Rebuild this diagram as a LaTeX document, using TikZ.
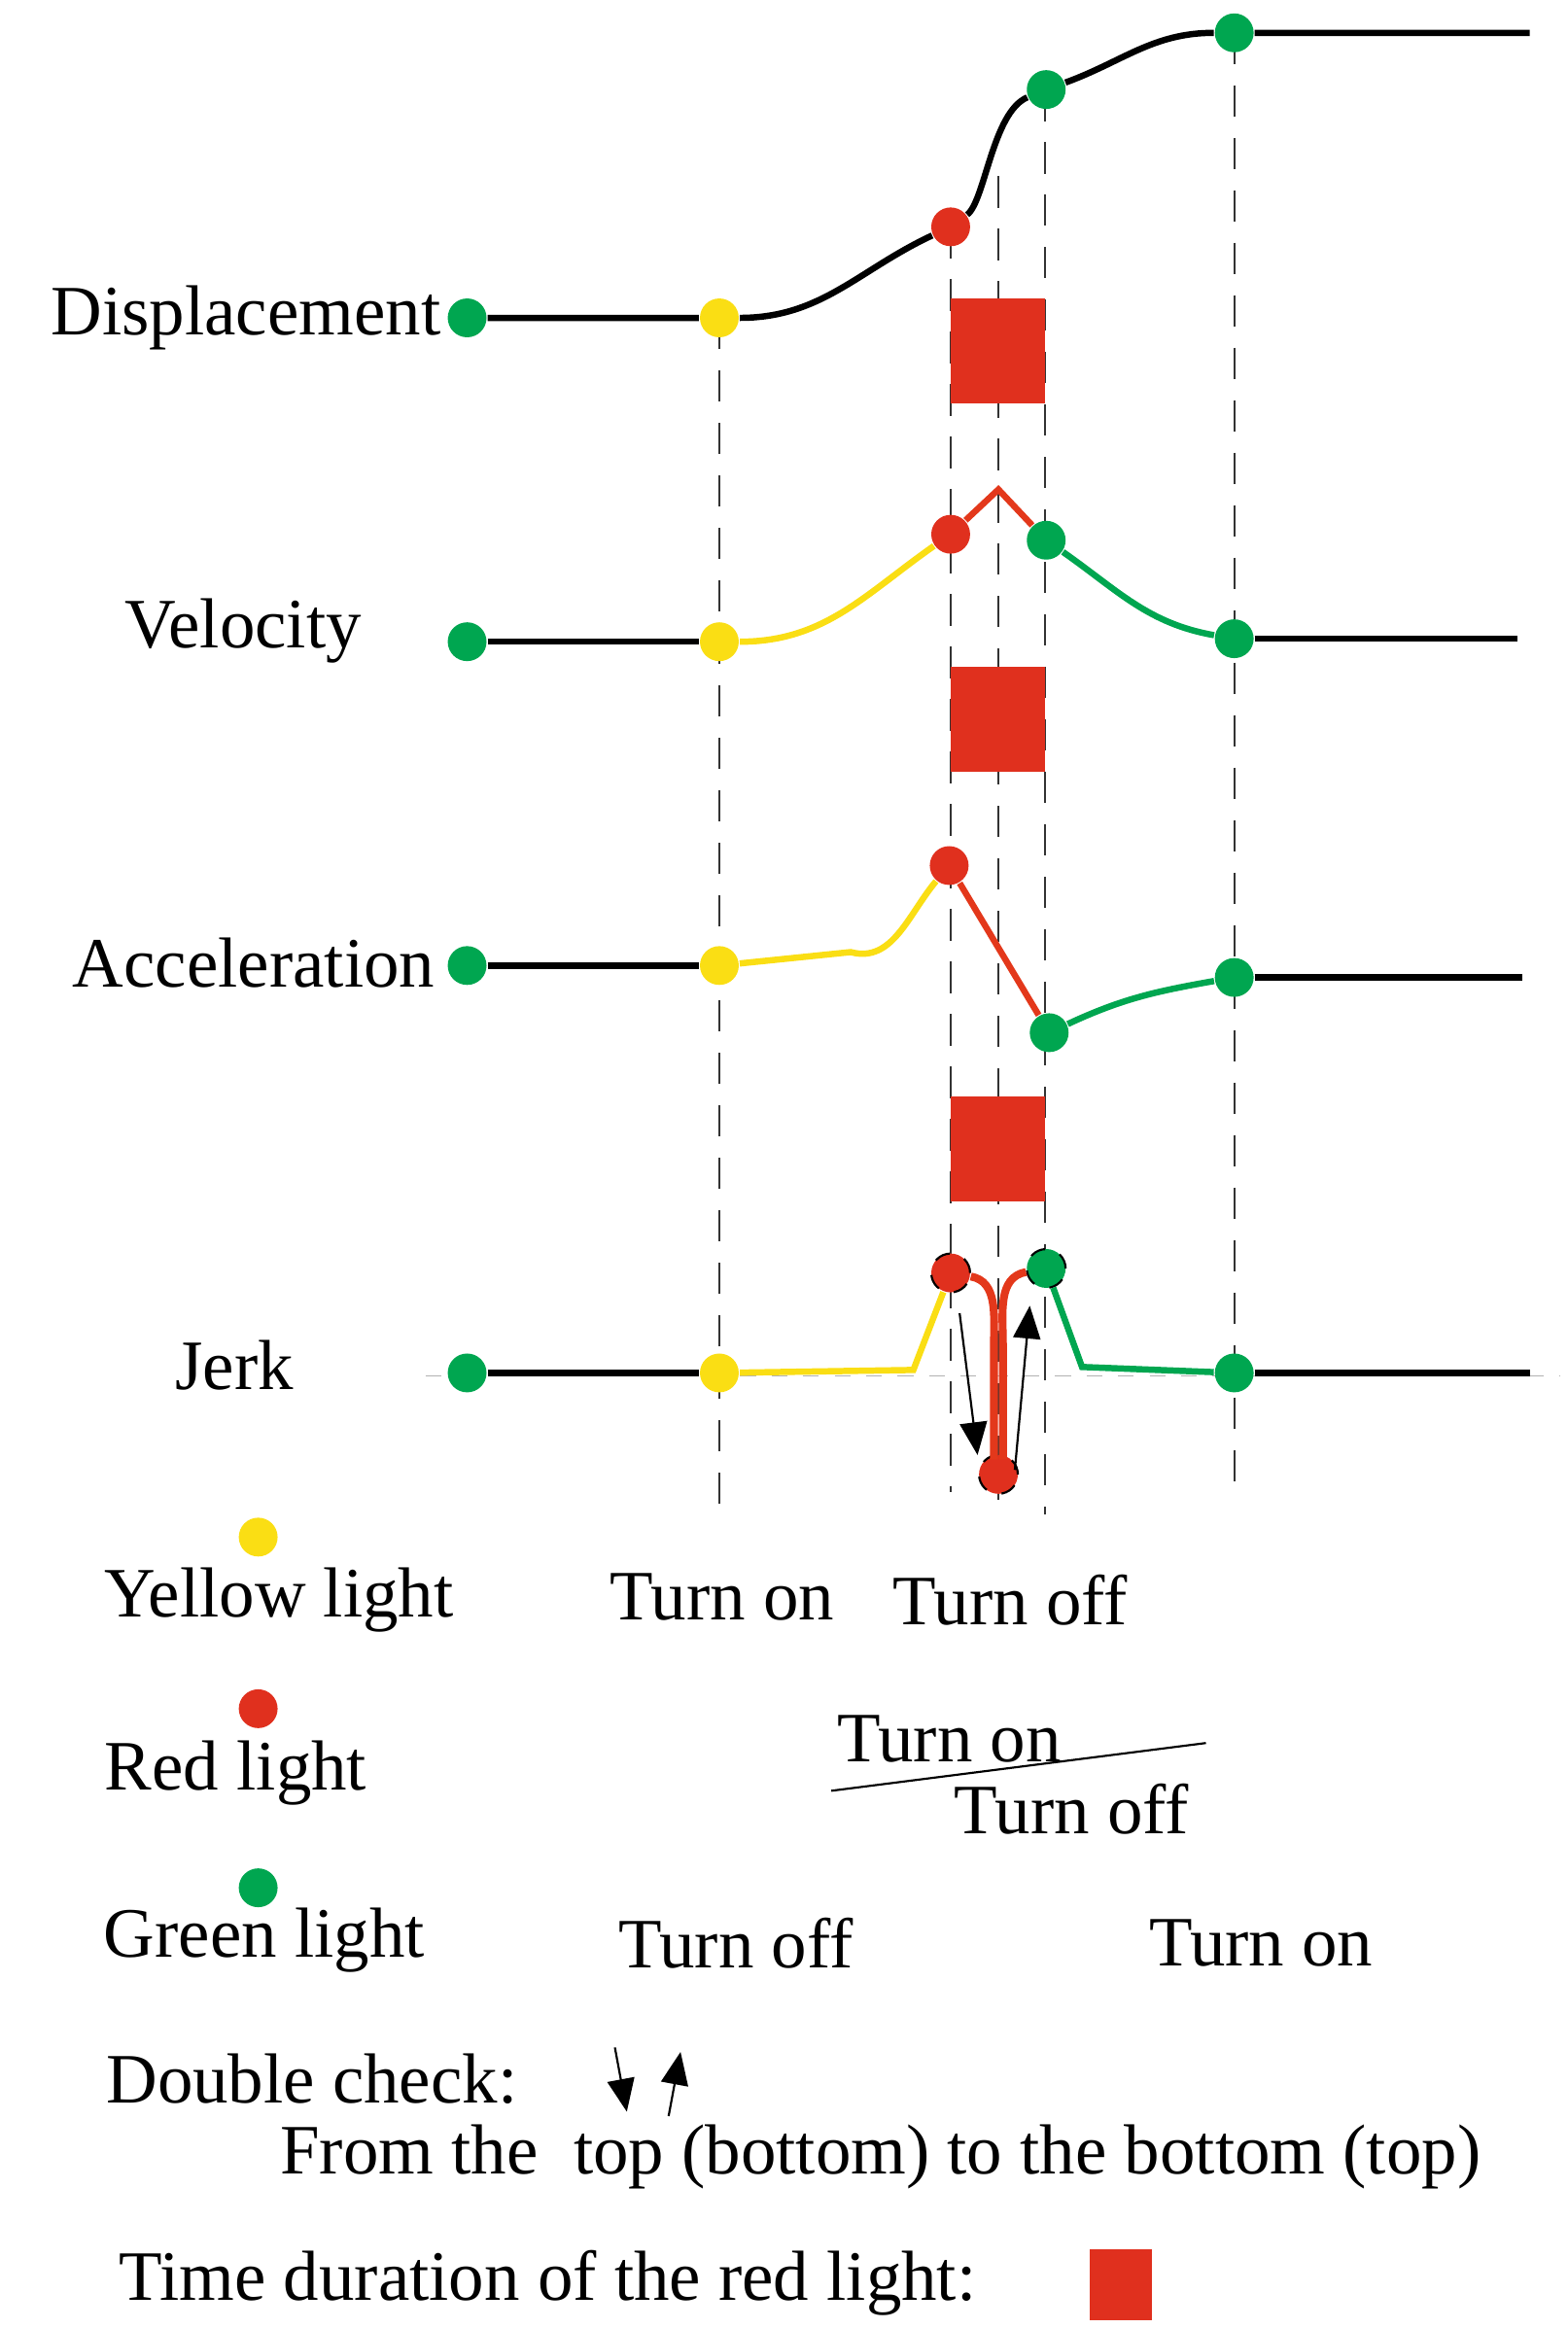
\documentclass[tikz,border=0pt]{standalone}
\usepackage{fontspec}
\setmainfont{Liberation Serif}
\usetikzlibrary{arrows}
\definecolor{lyel}{RGB}{250,222,20}
\definecolor{lred}{RGB}{224,48,30}
\definecolor{lgrn}{RGB}{0,166,80}
\tikzset{dot/.style={circle,fill=#1,inner sep=0pt,minimum width=0.26cm,minimum height=0.26cm},
  jdot/.style={dot=#1,draw=black,dashed,thin},
  lbl/.style={font=\fontsize{13.5}{16}\selectfont,inner sep=0pt},
  guide/.style={dash pattern=on 6pt off 4pt,black!80,thin},
  curve/.style={line width=1.2pt}}
\begin{document}
\begin{tikzpicture}[x=0.01cm,y=-0.01cm]
      \useasboundingbox (0,0) rectangle (1050,1560);
      % guide lines
      \draw [guide] (482,213) -- (482,1015);
      \draw [guide] (637,152) -- (637,1000);
      \draw [guide] (669,118) -- (669,1005);
      \draw [guide] (700,60) -- (700,1015);
      \draw [guide] (827,22) -- (827,1005);
      \draw [dashed,gray!60,very thin] (285,922) -- (1045,922);
      % red light duration
      \foreach \y in {200,447,735}
        \fill [lred] (637,\y) rectangle (700,\y+70);

      % displacement
      \node [lbl,anchor=east] at (296,213) {Displacement};
      \node [dot=lgrn] (d0) at (313,213) {};
      \node [dot=lyel] (d1) at (482,213) {};
      \node [dot=lred] (d2) at (637,152) {};
      \node [dot=lgrn] (d3) at (701,60) {};
      \node [dot=lgrn] (d4) at (827,22) {};
      \coordinate (d5) at (1025,22);
      \draw [curve] (d0) -- (d1) to[out=0,in=-155] (d2) .. controls (660,135) and (665,75) .. (d3) to[out=20,in=180] (d4) -- (d5);

      % velocity
      \node [lbl] at (163,423) {Velocity};
      \node [dot=lgrn] (v0) at (313,430) {};
      \node [dot=lyel] (v1) at (482,430) {};
      \node [dot=lred] (v2) at (637,358) {};
      \coordinate (vp) at (669,328);
      \node [dot=lgrn] (v3) at (701,362) {};
      \node [dot=lgrn] (v4) at (827,428) {};
      \coordinate (v5) at (1017,428);
      \draw [curve] (v0) -- (v1);
      \draw [curve,lyel] (v1) to[out=0,in=-145] (v2);
      \draw [curve,lred!90!orange] (v2) -- (vp) -- (v3);
      \draw [curve,lgrn] (v3) to[out=-35,in=170] (v4);
      \draw [curve] (v4) -- (v5);

      % acceleration
      \node [lbl,anchor=east] at (292,645) {Acceleration};
      \node [dot=lgrn] (a0) at (313,647) {};
      \node [dot=lyel] (a1) at (482,647) {};
      \node [dot=lred] (a2) at (636,580) {};
      \node [dot=lgrn] (a3) at (703,692) {};
      \node [dot=lgrn] (a4) at (827,655) {};
      \coordinate (a5) at (1020,655);
      \draw [curve] (a0) -- (a1);
      \draw [curve,lyel] (a1) -- (570,638) to[out=-15,in=-130] (a2);
      \draw [curve,lred!90!orange] (a2) -- (a3);
      \draw [curve,lgrn] (a3) to[out=25,in=190] (a4);
      \draw [curve] (a4) -- (a5);

      % jerk
      \node [lbl] at (157,915) {Jerk};
      \node [dot=lgrn] (j0) at (313,920) {};
      \node [dot=lyel] (j1) at (482,920) {};
      \node [jdot=lred] (j2) at (637,853) {};
      \node [jdot=lred] (j3) at (669,988) {};
      \node [jdot=lgrn] (j4) at (701,850) {};
      \node [dot=lgrn] (j5) at (827,920) {};
      \coordinate (j6) at (1025,920);
      \draw [curve] (j0) -- (j1);
      \draw [curve,lyel] (j1) -- (612,918) -- (j2);
      \draw [curve,lred!90!orange,line width=1.5pt] (j2) to[out=-10,in=90] (666,900) -- (666,978);
      \draw [curve,lred!90!orange,line width=1.5pt] (672,978) -- (672,900) to[out=90,in=190] (j4);
      \draw [curve,lgrn] (j4) -- (725,916) -- (j5);
      \draw [curve] (j5) -- (j6);
      \draw [->,>=triangle 45,thin] (643,880) -- (655,975);
      \draw [->,>=triangle 45,thin] (680,985) -- (690,875);

      % legend
      \node [dot=lyel] (ly) at (173,1030) {};
      \node [lbl] at (187,1072) {Yellow light};
      \node [lbl] at (484,1070) {Turn on};
      \node [lbl] at (677,1072) {Turn off};
      \node [dot=lred] (lr) at (173,1145) {};
      \node [lbl] at (158,1188) {Red light};
      \node [lbl] (ron) at (636,1165) {Turn on};
      \draw [thin] (557,1200) -- (808,1168);
      \node [lbl] (roff) at (718,1212) {Turn off};
      \node [dot=lgrn] (lg) at (173,1265) {};
      \node [lbl] at (177,1300) {Green light};
      \node [lbl] at (493,1302) {Turn off};
      \node [lbl] at (845,1302) {Turn on};
      \node [lbl] at (209,1393) {Double check:};
      \draw [->,>=triangle 45,thin] (412,1372) -- (420,1415);
      \draw [->,>=triangle 45,thin] (448,1418) -- (456,1375);
      \node [lbl] at (590,1445) {From the\ \ top (bottom) to the bottom (top)};
      \node [lbl] at (367,1530) {Time duration of the red light:};
      \fill [lred] (730,1507) rectangle (772,1555);
    \end{tikzpicture}
\end{document}
